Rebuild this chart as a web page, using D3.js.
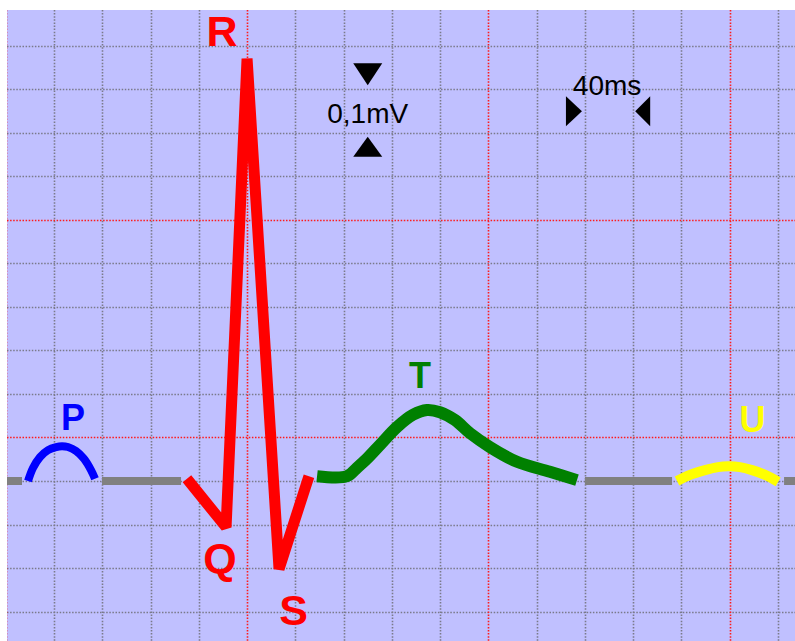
<!DOCTYPE html>
<html><head><meta charset="utf-8">
<script src="https://cdn.jsdelivr.net/npm/d3@7"></script>
<style>html,body{margin:0;padding:0;background:#fff;}svg{display:block;}</style>
</head><body>
<svg id="chart" width="795" height="641"></svg>
<script>
// ---- data (time in ms, voltage in mV relative to the isoelectric line) ----
const gridTimes = d3.range(0, 681, 40);           // small boxes: 40 ms
const gridVolts = d3.range(-3, 11).map(d => d / 10); // small boxes: 0.1 mV
const isoSegments = [[0, 13.5], [79.8, 145.3], [480, 552.2], [645, 670]];

const pTime = [18.5, 22.6, 28.4, 35.1, 41.7, 46.7, 51.6, 58.3, 64.9, 70.7, 74.0];
const pVolt = [0, 0.030, 0.055, 0.071, 0.078, 0.080, 0.078, 0.069, 0.051, 0.025, 0.005];

const qrsTime = [150.2, 182.6, 200.0, 226.5, 251.3];
const qrsVolt = [0.005, -0.106, 0.970, -0.202, 0.011];

const tTime = [258.0, 282.8, 291.0, 299.3, 310.2, 324.3, 337.5, 349.1, 359.9, 372.3, 384.7, 401.3, 423.7, 451.0, 473.4];
const tVolt = [0.011, 0.011, 0.030, 0.051, 0.083, 0.124, 0.152, 0.163, 0.158, 0.140, 0.110, 0.078, 0.044, 0.021, 0.002];

const uTime = [556.3, 567.1, 579.5, 590.3, 598.6, 608.5, 618.5, 629.3, 640.1];
const uVolt = [0, 0.014, 0.025, 0.032, 0.034, 0.032, 0.025, 0.014, -0.002];

const labelText = ["P", "Q", "R", "S", "T", "U"];
const labelTime = [55.8, 177.6, 179.2, 238.5, 343.3, 618.9];
const labelVolt = [0.117, -0.211, 0.999, -0.331, 0.214, 0.113];

const voltText = "0,1mV", timeText = "40ms";

// ---- drawing ----
const W = 795, H = 641;
const plot = {x: 7, y: 10, w: 788, h: 631};
const boxW = 48.27, boxH = 43.54;
const x = d3.scaleLinear().domain([0, 640]).range([5.7, 5.7 + 16 * boxW]);
const y = d3.scaleLinear().domain([0, 1.0]).range([481, 481 - 10 * boxH]);

const svg = d3.select("#chart");
svg.append("defs").append("clipPath").attr("id", "clip")
  .append("rect").attr("x", plot.x).attr("y", plot.y).attr("width", plot.w).attr("height", plot.h);

const g = svg.append("g").attr("clip-path", "url(#clip)");
g.append("rect").attr("x", plot.x).attr("y", plot.y).attr("width", plot.w).attr("height", plot.h)
  .attr("fill", "#c0c0ff");

const isRedT = t => t % 200 === 0;
const isRedV = v => ((Math.round(v * 10) % 5) + 5) % 5 === 1;

function gridLayer(red) {
  const gl = g.append("g")
    .attr("stroke", red ? "#ff1a1a" : "#7a7a8a")
    .attr("stroke-width", 1.6)
    .attr("stroke-dasharray", "1.5,1.6");
  gl.selectAll("line.v").data(gridTimes.filter(t => isRedT(t) === red)).join("line")
    .attr("x1", d => Math.round(x(d)) + 0.5).attr("x2", d => Math.round(x(d)) + 0.5)
    .attr("y1", plot.y).attr("y2", plot.y + plot.h);
  gl.selectAll("line.h").data(gridVolts.filter(v => isRedV(v) === red)).join("line")
    .attr("y1", d => Math.round(y(d)) + 0.5).attr("y2", d => Math.round(y(d)) + 0.5)
    .attr("x1", plot.x).attr("x2", plot.x + plot.w);
}
gridLayer(false);
gridLayer(true);

// isoelectric segments
g.selectAll("line.iso").data(isoSegments).join("line")
  .attr("x1", d => x(d[0])).attr("x2", d => x(d[1]))
  .attr("y1", y(0)).attr("y2", y(0))
  .attr("stroke", "#808080").attr("stroke-width", 8);

const zip = (ts, vs) => ts.map((t, i) => [t, vs[i]]);
const smooth = d3.line().x(d => x(d[0])).y(d => y(d[1])).curve(d3.curveCatmullRom);
const straight = d3.line().x(d => x(d[0])).y(d => y(d[1]));

function wave(data, gen, color, width) {
  g.append("path").attr("d", gen(data)).attr("fill", "none")
    .attr("stroke", color).attr("stroke-width", width)
    .attr("stroke-linejoin", "bevel").attr("stroke-linecap", "butt");
}
wave(zip(pTime, pVolt), smooth, "#0000ff", 8);
wave(zip(qrsTime, qrsVolt), straight, "#ff0000", 11);
wave(zip(tTime, tVolt), smooth, "#008000", 12);
wave(zip(uTime, uVolt), smooth, "#ffff00", 10);

// wave labels
const labelColor = {P: "#0000ff", Q: "#ff0000", R: "#ff0000", S: "#ff0000", T: "#008000", U: "#ffff00"};
const labelSize = {P: 36, Q: 43, R: 43, S: 43, T: 36, U: 36};
g.selectAll("text.lbl").data(labelText).join("text")
  .attr("x", (d, i) => x(labelTime[i])).attr("y", (d, i) => y(labelVolt[i]))
  .attr("text-anchor", "middle")
  .attr("font-family", "'Liberation Sans', Arial, sans-serif")
  .attr("font-weight", "bold")
  .attr("font-size", d => labelSize[d])
  .attr("fill", d => labelColor[d])
  .text(d => d);

// scale annotations
const ann = g.append("g").attr("fill", "#000");
const cxV = x(300);
ann.append("path").attr("d", d3.line()([[cxV - 14.5, y(0.9) - 26], [cxV + 14.5, y(0.9) - 26], [cxV, y(0.9) - 4]]) + "Z");
ann.append("path").attr("d", d3.line()([[cxV - 14.5, y(0.8) + 24], [cxV + 14.5, y(0.8) + 24], [cxV, y(0.8) + 4]]) + "Z");
ann.append("text").attr("x", cxV).attr("y", y(0.822)).attr("text-anchor", "middle")
  .attr("font-family", "'Liberation Sans', Arial, sans-serif").attr("font-size", 28).text(voltText);

const ty = y(0.9) + 22;
const l = x(480), r = x(520);
ann.append("path").attr("d", d3.line()([[l - 19, ty - 15], [l - 19, ty + 15], [l - 3, ty]]) + "Z");
ann.append("path").attr("d", d3.line()([[r + 17, ty - 15], [r + 17, ty + 15], [r + 2, ty]]) + "Z");
ann.append("text").attr("x", (l + r) / 2 - 2).attr("y", y(0.887)).attr("text-anchor", "middle")
  .attr("font-family", "'Liberation Sans', Arial, sans-serif").attr("font-size", 28).text(timeText);
</script>
</body></html>
